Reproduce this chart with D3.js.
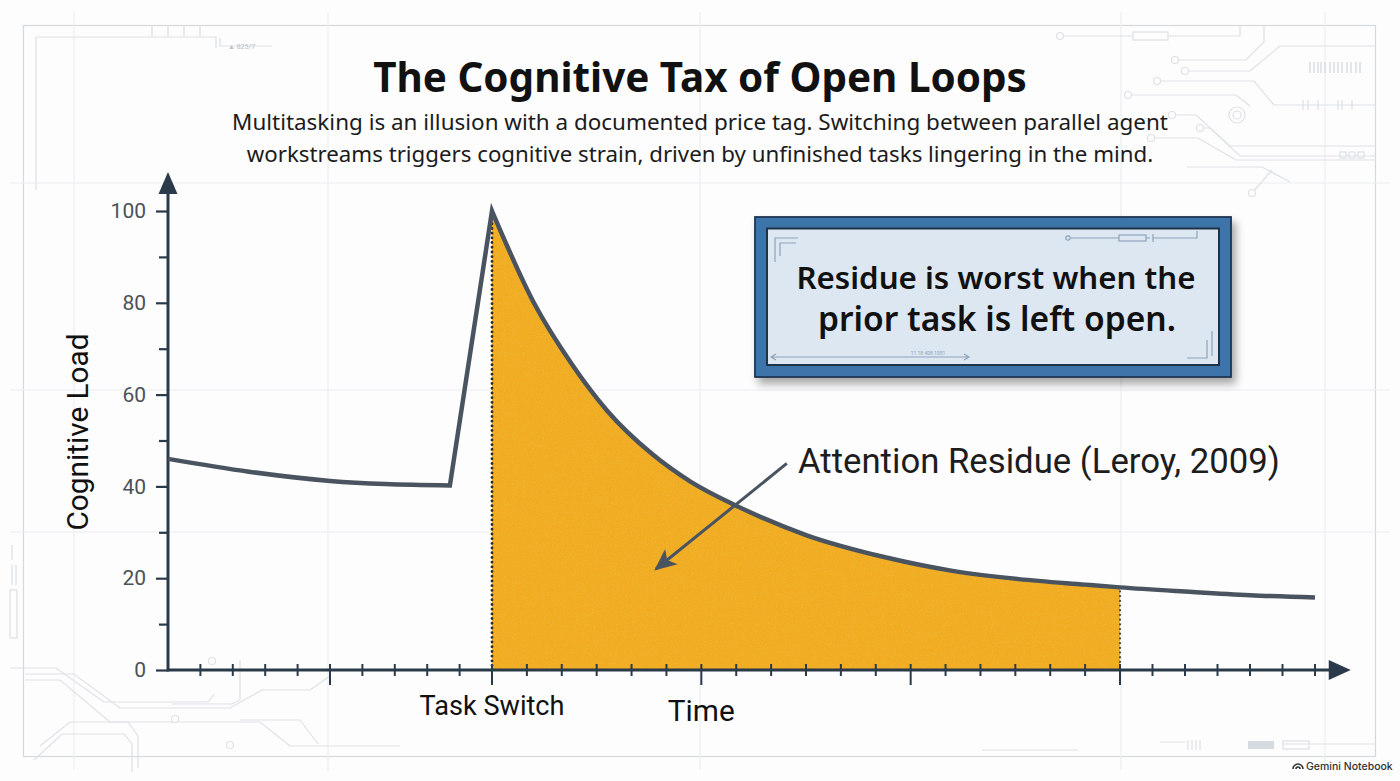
<!DOCTYPE html>
<html>
<head>
<meta charset="utf-8">
<script src="https://cdn.jsdelivr.net/npm/d3@7"></script>
<style>
  body { margin: 0; background: #fdfdfd; }
  svg { display: block; font-family: Roboto, "Liberation Sans", sans-serif; }
</style>
</head>
<body>
<div id="chart"></div>
<script>
// chart data
var TITLE = "The Cognitive Tax of Open Loops";
var SUBTITLE = [
    "Multitasking is an illusion with a documented price tag. Switching between parallel agent",
    "workstreams triggers cognitive strain, driven by unfinished tasks lingering in the mind."
];
var BOX_TEXT = ["Residue is worst when the", "prior task is left open."];
var ANNOTATION = "Attention Residue (Leroy, 2009)";

// time is measured in ticks, 0 = the task switch
var preTime = [-10, -7.5, -5, -3.3, -1.3];
var preLoad = [46, 43.2, 41.2, 40.5, 40.2];
var decayTime = [0, 1.2, 2.3, 3.3, 4.6, 5.7, 7, 9, 11.3, 13.2, 15.1, 17, 18, 20, 22, 24];
var decayLoad = [100, 80, 66.5, 56.5, 47, 41, 35.8, 29.4, 24.5, 21.6, 19.8, 18.6, 18, 17.1, 16.3, 15.8];
var residueEnd = 18;

var yTicks = [0, 20, 40, 60, 80, 100];
var yMinorTicks = [10, 30, 50, 70, 90];
var xMajorTicks = [-5, 0, 6, 12, 18];
var xMinorTicks = [-9, -8, -7, -6, -4, -3, -2, -1, 1, 2, 3, 4, 5, 7, 8, 9, 10, 11, 13, 14, 15, 16, 17, 19, 20, 21, 22, 23, 24];

var W = 1400, H = 781;
var INK = "#2b3a4a", LINE = "#4a5461", ORANGE = "#f3ab20";

var svg = d3.select("#chart").append("svg").attr("width", W).attr("height", H);
var defs = svg.append("defs");

// grain for the residue fill
var grain = defs.append("filter").attr("id", "grain").attr("x", 0).attr("y", 0).attr("width", 1).attr("height", 1);
grain.append("feTurbulence").attr("type", "fractalNoise").attr("baseFrequency", 0.9).attr("numOctaves", 2).attr("seed", 4).attr("result", "noise");
grain.append("feColorMatrix").attr("in", "noise").attr("type", "matrix")
    .attr("values", "0 0 0 0 0.78  0 0 0 0 0.52  0 0 0 0 0.05  0 0 0 -1.6 0.9").attr("result", "spk");
grain.append("feComposite").attr("in", "spk").attr("in2", "SourceGraphic").attr("operator", "in").attr("result", "spk2");
var gm = grain.append("feMerge");
gm.append("feMergeNode").attr("in", "SourceGraphic");
gm.append("feMergeNode").attr("in", "spk2");

var shadow = defs.append("filter").attr("id", "shadow").attr("x", "-10%").attr("y", "-10%").attr("width", "130%").attr("height", "140%");
shadow.append("feDropShadow").attr("dx", 4).attr("dy", 6).attr("stdDeviation", 4).attr("flood-color", "#000").attr("flood-opacity", 0.35);

defs.append("marker").attr("id", "head").attr("viewBox", "0 0 10 10").attr("refX", 9).attr("refY", 5)
    .attr("markerWidth", 22).attr("markerHeight", 22).attr("markerUnits", "userSpaceOnUse").attr("orient", "auto")
    .append("path").attr("d", "M0,0.5 L10,5 L0,9.5 L2.5,5 Z").attr("fill", LINE);

// ---------- background decoration ----------
var deco = svg.append("g").attr("fill", "none").attr("stroke", "#dde2e7").attr("stroke-width", 1.2);
deco.append("rect").attr("x", 23.5).attr("y", 25.5).attr("width", 1352).attr("height", 731).attr("stroke", "#d3d9df");
[74, 328, 700, 1121, 1325].forEach(function(gx) {
    deco.append("line").attr("x1", gx).attr("x2", gx).attr("y1", 12).attr("y2", 770).attr("stroke", "#eceef1");
});
[183, 390, 532].forEach(function(gy) {
    deco.append("line").attr("x1", 10).attr("x2", 1390).attr("y1", gy).attr("y2", gy).attr("stroke", "#eceef1");
});
deco.append("path").attr("d", "M36,37 H216 V48 M36,37 V190 M152,37 V25 M168,37 V25 M184,37 V25 M200,37 V25 M220,38 V46 H272");
svg.append("text").attr("x", 228).attr("y", 49).attr("font-size", 7).attr("fill", "#b9c0c7").text("▲ 825/7");

var circuits = [
    "M1060,36 H1133 M1168,36 H1240 V26",
    "M1175,60 H1246 L1264,42 V26",
    "M1185,71 H1250 L1280,46 H1376",
    "M1157,81 H1254 L1274,105 H1376",
    "M1128,95 H1236 L1250,106",
    "M1172,115 H1196 L1230,146 H1376",
    "M1200,128 H1210 L1240,156 H1376",
    "M1151,138 H1198 L1236,160 H1376",
    "M1187,167 H1262 L1290,182",
    "M1252,193 L1272,170",
    "M10,668 H56 L104,702 H208 L214,694",
    "M25,674 H74 L120,708 H230 L262,690 H310 L330,676",
    "M25,680 H60 L110,722 H260 L290,746 H400",
    "M40,746 L70,722 H128 L138,736 V768",
    "M34,760 L62,734 H124 L132,744 V772",
    "M240,660 V700 L232,704 H172",
    "M240,720 H300 L318,744",
    "M982,750 H1078 M1160,742 H1186",
    "M1282,744 H1376"
];
circuits.forEach(function(d) { deco.append("path").attr("d", d); });
[[1060, 36], [1175, 60], [1185, 71], [1157, 81], [1128, 95], [1172, 115], [1151, 138], [1252, 193],
 [212, 661], [175, 719], [230, 745], [1200, 128]].forEach(function(c) {
    deco.append("circle").attr("cx", c[0]).attr("cy", c[1]).attr("r", 3.5).attr("fill", "#fdfdfd");
});
deco.append("rect").attr("x", 1133).attr("y", 32).attr("width", 35).attr("height", 8);
deco.append("circle").attr("cx", 1237).attr("cy", 115).attr("r", 8);
deco.append("circle").attr("cx", 1237).attr("cy", 115).attr("r", 4);
deco.append("rect").attr("x", 1340).attr("y", 152).attr("width", 6).attr("height", 6);
deco.append("rect").attr("x", 1349).attr("y", 152).attr("width", 6).attr("height", 6);
deco.append("rect").attr("x", 1358).attr("y", 152).attr("width", 6).attr("height", 6);
deco.append("rect").attr("x", 1248).attr("y", 741).attr("width", 26).attr("height", 8).attr("fill", "#d5dbe1").attr("stroke", "none");
deco.append("rect").attr("x", 1283).attr("y", 741).attr("width", 26).attr("height", 8);
deco.append("rect").attr("x", 10).attr("y", 590).attr("width", 7).attr("height", 48);
deco.append("path").attr("d", "M1310,62 V73 M1314,62 V73 M1318,62 V73 M1321,62 V73 M1325,62 V73 M1330,62 V73 M1334,62 V73 M1338,62 V73 M1342,62 V73 M1347,62 V73 M1351,62 V73 M1356,62 V73 M1360,62 V73")
    .attr("stroke", "#d0d6dc");
deco.append("path").attr("d", "M1303,100 V110 M1308,100 V110 M1318,100 V110 M1338,100 V110 M1342,100 V110 M1352,100 V110 M1188,740 V750 M1192,740 V750 M1196,740 V750 M1200,740 V750 M12,545 V560 M12,565 V585 M16,565 V585");

// ---------- scales ----------
// the picture's tick spacing is a little tighter before the switch than after
var x = d3.scaleLinear().domain([-10, 0, 18, 24]).range([168, 492, 1120, 1315]);
var y = d3.scaleLinear().domain([0, 100]).range([670, 211]);

var pre = preTime.map(function(t, i) { return { t: t, v: preLoad[i] }; });
var decay = decayTime.map(function(t, i) { return { t: t, v: decayLoad[i] }; });

var g = svg.append("g");

// residue area
var area = d3.area()
    .x(function(d) { return x(d.t); })
    .y0(y(0))
    .y1(function(d) { return y(d.v); })
    .curve(d3.curveMonotoneX);
g.append("path")
    .datum(decay.filter(function(d) { return d.t <= residueEnd; }))
    .attr("d", area)
    .attr("fill", ORANGE)
    .attr("filter", "url(#grain)");

// dotted bounds of the residue
g.append("line").attr("x1", x(0)).attr("x2", x(0)).attr("y1", y(100) + 8).attr("y2", y(0))
    .attr("stroke", "#2a2a2a").attr("stroke-width", 2.8).attr("stroke-linecap", "round").attr("stroke-dasharray", "0.1 4.6");
g.append("line").attr("x1", x(residueEnd)).attr("x2", x(residueEnd)).attr("y1", y(18) + 4).attr("y2", y(0))
    .attr("stroke", "#5a4a2a").attr("stroke-width", 2.2).attr("stroke-linecap", "round").attr("stroke-dasharray", "0.1 4.6");

// axes
var yAxis = g.append("g").attr("transform", "translate(" + x(-10) + ",0)")
    .call(d3.axisLeft(y).tickValues(yTicks).tickSize(12).tickPadding(10));
var yAxisMinor = g.append("g").attr("transform", "translate(" + x(-10) + ",0)")
    .call(d3.axisLeft(y).tickValues(yMinorTicks).tickSize(9).tickFormat(""));
[yAxis, yAxisMinor].forEach(function(a) {
    a.select(".domain").remove();
    a.selectAll(".tick line").attr("stroke", INK).attr("stroke-width", 2.2);
});
yAxis.selectAll(".tick text").attr("font-size", 21).attr("fill", "#4b5159").attr("font-family", "Roboto, sans-serif");

var xAxisG = g.append("g");
xAxisG.selectAll("line.minor").data(xMinorTicks).join("line").attr("class", "minor")
    .attr("x1", function(d) { return x(d); }).attr("x2", function(d) { return x(d); })
    .attr("y1", y(0) - 6).attr("y2", y(0) + 6);
xAxisG.selectAll("line.major").data(xMajorTicks).join("line").attr("class", "major")
    .attr("x1", function(d) { return x(d); }).attr("x2", function(d) { return x(d); })
    .attr("y1", y(0) - 6).attr("y2", y(0) + 15);
xAxisG.selectAll("line").attr("stroke", INK).attr("stroke-width", 2);

var xEnd = x(25.1), yTop = y(108.5);
g.append("line").attr("x1", x(-10)).attr("x2", xEnd - 16).attr("y1", y(0)).attr("y2", y(0)).attr("stroke", INK).attr("stroke-width", 3);
g.append("line").attr("x1", x(-10)).attr("x2", x(-10)).attr("y1", y(0) + 1.5).attr("y2", yTop + 16).attr("stroke", INK).attr("stroke-width", 3);
g.append("path").attr("fill", INK)
    .attr("d", "M" + xEnd + "," + y(0) + " L" + (xEnd - 22) + "," + (y(0) - 10) + " L" + (xEnd - 22) + "," + (y(0) + 10) + " Z");
g.append("path").attr("fill", INK)
    .attr("d", "M" + x(-10) + "," + yTop + " L" + (x(-10) - 9.5) + "," + (yTop + 22) + " L" + (x(-10) + 9.5) + "," + (yTop + 22) + " Z");

// the load line: gentle drift, sharp rise at the switch, slow decay
var line = d3.line()
    .x(function(d) { return x(d.t); })
    .y(function(d) { return y(d.v); })
    .curve(d3.curveMonotoneX);
g.append("path")
    .attr("d", line(pre) + line(decay).replace(/^M/, "L"))
    .attr("fill", "none")
    .attr("stroke", LINE)
    .attr("stroke-width", 4.5)
    .attr("stroke-linejoin", "miter")
    .attr("stroke-miterlimit", 6);

// ---------- text ----------
function fit(sel, width) {
    var fs = parseFloat(sel.attr("font-size"));
    var len = sel.node().getComputedTextLength();
    if (len > 0) sel.attr("font-size", (fs * width / len).toFixed(2));
    return sel;
}

fit(svg.append("text").attr("x", 700).attr("y", 92).attr("text-anchor", "middle")
    .attr("font-family", "'Noto Sans', 'Open Sans', sans-serif").attr("font-weight", 700)
    .attr("font-size", 40).attr("fill", "#111").text(TITLE), 654);
fit(svg.append("text").attr("x", 700).attr("y", 130).attr("text-anchor", "middle")
    .attr("font-family", "'Noto Sans', 'Open Sans', sans-serif").attr("font-size", 22).attr("fill", "#1b1b1b").text(SUBTITLE[0]), 936);
fit(svg.append("text").attr("x", 700).attr("y", 162).attr("text-anchor", "middle")
    .attr("font-family", "'Noto Sans', 'Open Sans', sans-serif").attr("font-size", 22).attr("fill", "#1b1b1b").text(SUBTITLE[1]), 907);

fit(svg.append("text").attr("transform", "translate(88," + 432 + ") rotate(-90)").attr("text-anchor", "middle")
    .attr("font-size", 28).attr("fill", "#111").text("Cognitive Load"), 197);
fit(svg.append("text").attr("x", x(0)).attr("y", 715).attr("text-anchor", "middle")
    .attr("font-size", 25).attr("fill", "#111").text("Task Switch"), 145);
fit(svg.append("text").attr("x", x(6)).attr("y", 721).attr("text-anchor", "middle")
    .attr("font-size", 28).attr("fill", "#111").text("Time"), 67);

// annotation arrow into the residue
g.append("line")
    .attr("x1", x(8.45)).attr("y1", y(45))
    .attr("x2", x(4.7)).attr("y2", y(22))
    .attr("stroke", LINE).attr("stroke-width", 3)
    .attr("marker-end", "url(#head)");
fit(svg.append("text").attr("x", 798).attr("y", 473).attr("font-size", 30).attr("fill", "#1d1d1d").text(ANNOTATION), 482);

// callout box
var box = svg.append("g");
box.append("rect").attr("x", 755).attr("y", 217).attr("width", 476).attr("height", 160)
    .attr("fill", "#3e74ab").attr("stroke", "#1d3552").attr("stroke-width", 1.8).attr("filter", "url(#shadow)");
box.append("rect").attr("x", 767).attr("y", 228.5).attr("width", 452).attr("height", 136.5)
    .attr("fill", "#dce7f2").attr("stroke", "#1f3247").attr("stroke-width", 2);
var bd = box.append("g").attr("fill", "none").attr("stroke", "#8ea4ba").attr("stroke-width", 1.2);
bd.append("path").attr("d", "M775,262 V238 H798 M780,256 V243 H796");
bd.append("path").attr("d", "M1071,238 H1119 M1146,238 H1150 M1153,234 V242 M1153,238 H1197 V231");
bd.append("circle").attr("cx", 1068).attr("cy", 238).attr("r", 2.2);
bd.append("rect").attr("x", 1119).attr("y", 235).attr("width", 27).attr("height", 6);
bd.append("path").attr("d", "M1187,358 H1207 V340 M1212,331 V356");
bd.append("path").attr("d", "M772,357 H968 M776,354 L771,357 L776,360 M964,354 L969,357 L964,360");
box.append("text").attr("x", 928).attr("y", 355).attr("text-anchor", "middle").attr("font-size", 5).attr("fill", "#8ea4ba").text("11 18 408 1081");
fit(box.append("text").attr("x", 996).attr("y", 289).attr("text-anchor", "middle")
    .attr("font-family", "'Noto Sans', 'Open Sans', sans-serif").attr("font-weight", 600)
    .attr("font-size", 30).attr("fill", "#111").text(BOX_TEXT[0]), 399);
fit(box.append("text").attr("x", 997).attr("y", 331).attr("text-anchor", "middle")
    .attr("font-family", "'Noto Sans', 'Open Sans', sans-serif").attr("font-weight", 600)
    .attr("font-size", 30).attr("fill", "#111").text(BOX_TEXT[1]), 358);

// watermark
svg.append("text").attr("x", 1306).attr("y", 770).attr("text-anchor", "start")
    .attr("font-family", "Inter, sans-serif").attr("font-weight", 500).attr("font-size", 10.5).attr("fill", "#333").text("Gemini Notebook");
svg.append("path").attr("d", "M1293,769 A5,5 0 0 1 1303,769 M1296,769 A2,2 0 0 1 1300,769")
    .attr("fill", "none").attr("stroke", "#333").attr("stroke-width", 1.6);
</script>
</body>
</html>
